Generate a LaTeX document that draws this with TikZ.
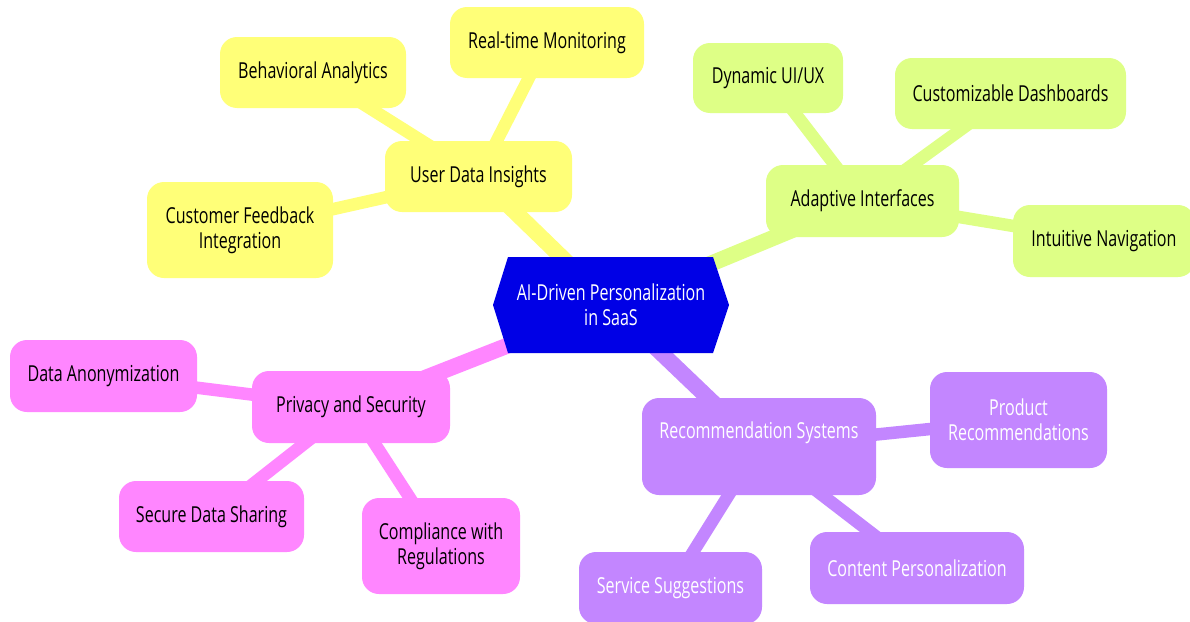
\documentclass[tikz,border=0pt]{standalone}
\usepackage{fontspec}
\setmainfont{Open Sans}[FakeStretch=0.73]
\usetikzlibrary{calc}
\definecolor{cyel}{HTML}{FFFF78}
\definecolor{cgrn}{HTML}{DEFF86}
\definecolor{cpur}{HTML}{C386FF}
\definecolor{cpnk}{HTML}{FF86FF}
\definecolor{croot}{HTML}{0000E6}
\pgfdeclarelayer{bg}
\pgfsetlayers{bg,main}
\tikzset{
  mm/.style={rounded corners=17pt, inner sep=0pt, align=center,
    font=\fontsize{22}{25}\selectfont, text=black},
  yel/.style={mm, fill=cyel},
  grn/.style={mm, fill=cgrn},
  pnk/.style={mm, fill=cpnk},
  pur/.style={mm, fill=cpur, text=white},
  wh/.style 2 args={minimum width=#1pt, minimum height=#2pt},
  e0/.style={line width=16pt},
  e1/.style={line width=12.5pt},
}
\begin{document}
\begin{tikzpicture}[x=1pt,y=-1pt]
\useasboundingbox (0,0) rectangle (1190,621);
% root hexagon
\coordinate (rc) at (611,305);
\fill[croot] ($(rc)+(-118,0)$) -- ($(rc)+(-103,-48)$) -- ($(rc)+(102,-48)$) -- ($(rc)+(118,0)$) -- ($(rc)+(102,48)$) -- ($(rc)+(-103,48)$) -- cycle;
\node[mm, text=white] (root) at (rc) {AI-Driven Personalization\\in SaaS};
% yellow branch
\node[yel, wh={187}{71}] (udi) at (478.5,176.5) {User Data Insights};
\node[yel, wh={186}{71}] (ba) at (313,72.5) {Behavioral Analytics};
\node[yel, wh={194}{71}] (rtm) at (547,42.5) {Real-time Monitoring};
\node[yel, wh={186}{96}] (cfi) at (240,230) {Customer Feedback\\Integration};
% green branch
\node[grn, wh={193}{72}] (ai) at (862.5,201) {Adaptive Interfaces};
\node[grn, wh={150}{70}] (dui) at (768,78) {Dynamic UI/UX};
\node[grn, wh={231}{71}] (cd) at (1010.5,93.5) {Customizable Dashboards};
\node[grn, wh={182}{72}] (inav) at (1104,241) {Intuitive Navigation};
% pink branch
\node[pnk, wh={198}{72}] (ps) at (351,407) {Privacy and Security};
\node[pnk, wh={187}{72}] (da) at (103.5,376) {Data Anonymization};
\node[pnk, wh={185}{71}] (sds) at (211.5,516.5) {Secure Data Sharing};
\node[pnk, wh={158}{96}] (crg) at (441,546) {Compliance with\\Regulations};
% purple branch
\node[pur, wh={234}{97}] (rs) at (759,446.5) {Recommendation Systems\\\strut};
\node[pur, wh={177}{96}] (pr) at (1018.5,420) {Product\\Recommendations};
\node[pur, wh={214}{72}] (cp) at (917,568) {Content Personalization};
\node[pur, wh={183}{72}] (ss) at (670.5,588) {Service Suggestions};
% connectors
\begin{pgfonlayer}{bg}
\fill[white] (0,0) rectangle (1190,621);
\draw[e0, cyel] (rc) -- (udi.center);
\draw[e0, cgrn] (rc) -- (ai.center);
\draw[e0, cpnk] (rc) -- (ps.center);
\draw[e0, cpur] (rc) -- (rs.center);
\draw[e1, cyel] (udi.center) -- (ba.center);
\draw[e1, cyel] (udi.center) -- (rtm.center);
\draw[e1, cyel] (udi.center) -- (cfi.center);
\draw[e1, cgrn] (ai.center) -- (dui.center);
\draw[e1, cgrn] (ai.center) -- (cd.center);
\draw[e1, cgrn] (ai.center) -- (inav.center);
\draw[e1, cpnk] (ps.center) -- (da.center);
\draw[e1, cpnk] (ps.center) -- (sds.center);
\draw[e1, cpnk] (ps.center) -- (crg.center);
\draw[e1, cpur] (rs.center) -- (pr.center);
\draw[e1, cpur] (rs.center) -- (cp.center);
\draw[e1, cpur] (rs.center) -- (ss.center);
\end{pgfonlayer}
\end{tikzpicture}
\end{document}
